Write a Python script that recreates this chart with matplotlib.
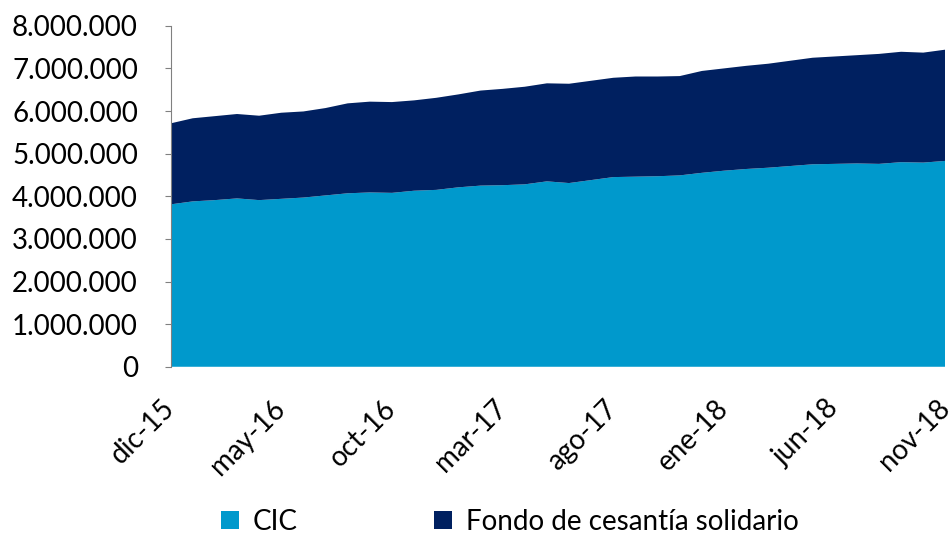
import numpy as np
import matplotlib.pyplot as plt
from matplotlib.ticker import FuncFormatter

plt.rcParams['font.family'] = ['Lato', 'DejaVu Sans']

# meses dic-15 .. nov-18
meses = ['dic-15', 'ene-16', 'feb-16', 'mar-16', 'abr-16', 'may-16', 'jun-16', 'jul-16',
         'ago-16', 'sep-16', 'oct-16', 'nov-16', 'dic-16', 'ene-17', 'feb-17', 'mar-17',
         'abr-17', 'may-17', 'jun-17', 'jul-17', 'ago-17', 'sep-17', 'oct-17', 'nov-17',
         'dic-17', 'ene-18', 'feb-18', 'mar-18', 'abr-18', 'may-18', 'jun-18', 'jul-18',
         'ago-18', 'sep-18', 'oct-18', 'nov-18']

# CIC (millones)
cic = [3.81, 3.88, 3.91, 3.95, 3.91, 3.94, 3.97, 4.02, 4.07, 4.09, 4.08, 4.13,
       4.15, 4.21, 4.25, 4.26, 4.28, 4.35, 4.31, 4.38, 4.45, 4.46, 4.47, 4.49,
       4.55, 4.60, 4.64, 4.67, 4.71, 4.75, 4.76, 4.77, 4.76, 4.80, 4.79, 4.83]

# total (millones), fondo = total - cic
total = [5.71, 5.83, 5.88, 5.93, 5.89, 5.96, 5.99, 6.07, 6.18, 6.22, 6.21, 6.25,
         6.31, 6.39, 6.48, 6.52, 6.57, 6.65, 6.64, 6.71, 6.78, 6.81, 6.81, 6.82,
         6.94, 7.00, 7.06, 7.11, 7.18, 7.25, 7.28, 7.31, 7.34, 7.39, 7.37, 7.44]

cic = np.array(cic) * 1e6
fondo = np.array(total) * 1e6 - cic

x = np.arange(len(meses))

fig = plt.figure(figsize=(9.53, 5.37), dpi=100)
ax = fig.add_axes([0.179, 0.317, 0.813, 0.635])

ax.stackplot(x, cic, fondo, colors=['#0099CC', '#002060'],
             labels=['CIC', 'Fondo de cesantía solidario'], linewidth=0)

ax.set_xlim(0, len(meses) - 1)
ax.set_ylim(0, 8000000)
ax.set_yticks(np.arange(0, 8000001, 1000000))
ax.yaxis.set_major_formatter(FuncFormatter(lambda v, p: f'{int(v):,}'.replace(',', '.')))

ticks = x[::5]
ax.set_xticks(ticks)
ax.set_xticklabels([meses[i] for i in ticks], rotation=45, ha='right', va='center',
                   rotation_mode='anchor')

for s in ['top', 'right', 'bottom']:
    ax.spines[s].set_visible(False)
ax.spines['left'].set_color('#808080')
ax.tick_params(axis='y', length=4.5, color='#808080', labelsize=20, pad=19)
ax.tick_params(axis='x', length=0, labelsize=20, pad=27)

leg = fig.legend(loc='lower center', bbox_to_anchor=(0.535, -0.042), ncol=2,
                 frameon=False, fontsize=20, handlelength=0.65, handleheight=0.65,
                 handletextpad=0.5, columnspacing=4.9)

fig.savefig('out.png', dpi=100)
